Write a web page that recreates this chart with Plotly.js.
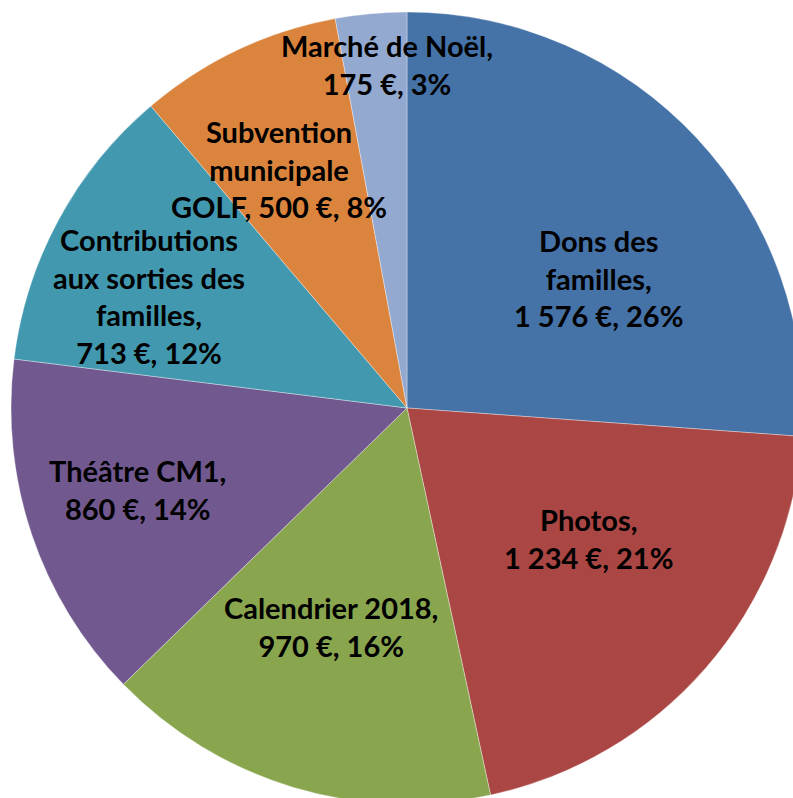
<!DOCTYPE html>
<html>
<head>
<meta charset="utf-8">
<script src="https://cdn.plot.ly/plotly-3.0.1.min.js"></script>
<style>
html, body { margin: 0; padding: 0; overflow: hidden; background: #ffffff; }
#chart { width: 820px; height: 820px; }
</style>
</head>
<body>
<div id="chart"></div>
<script>
// ---- data ----
const categories = ['Dons des familles', 'Photos', 'Calendrier 2018', 'Théâtre CM1',
  'Contributions aux sorties des familles', 'Subvention municipale GOLF', 'Marché de Noël'];
const labelLines = ['Dons des<br>familles,', 'Photos,', 'Calendrier 2018,', 'Théâtre CM1,',
  'Contributions<br>aux sorties des<br>familles,', 'Subvention<br>municipale<br>GOLF,', 'Marché de Noël,'];
const values = [1576, 1234, 970, 860, 713, 500, 175];
const colors = ['#4572A7', '#AA4643', '#89A54E', '#71588F', '#4198AF', '#DB843D', '#93A9CF'];

// ---- label placement style (fraction of radius, angle shift in degrees) ----
const labelDist = [0.583, 0.563, 0.585, 0.712, 0.710, 0.685, 0.870];
const labelShift = [8.8, -5.3, 2.3, 1.7, -4.9, -2.8, 1.9];
// labels with value on the same line as last text line
const inlineValue = [false, false, false, false, false, true, false];

const W = 820, H = 820;
const cx = 407, cy = 408, R = 396;

function fmt(v) {
  return String(v).replace(/\B(?=(\d{3})+(?!\d))/g, '\u00a0');
}

const total = values.reduce((a, b) => a + b, 0);

// percentages rounded so that they sum to 100 (largest remainder)
const raw = values.map(v => v / total * 100);
const pcts = raw.map(Math.floor);
let missing = 100 - pcts.reduce((a, b) => a + b, 0);
raw.map((r, i) => [r - Math.floor(r), i]).sort((a, b) => b[0] - a[0])
  .slice(0, missing).forEach(([, i]) => { pcts[i] += 1; });

let cum = 0;
const annotations = [];
values.forEach((v, i) => {
  const frac = v / total;
  const mid = (cum + frac / 2) * 360 + labelShift[i];
  cum += frac;
  const a = mid * Math.PI / 180;
  const px = cx + labelDist[i] * R * Math.sin(a);
  const py = cy - labelDist[i] * R * Math.cos(a);
  const valTxt = fmt(v) + ' €, ' + pcts[i] + '%';
  const text = inlineValue[i] ? labelLines[i] + ' ' + valTxt : labelLines[i] + '<br>' + valTxt;
  annotations.push({
    x: px / W, y: 1 - py / H, xref: 'paper', yref: 'paper',
    xanchor: 'center', yanchor: 'middle', showarrow: false,
    text: text, align: 'center',
    font: { family: 'Lato, sans-serif', size: 29, color: '#000000', weight: 'bold' }
  });
});

const trace = {
  type: 'pie',
  labels: categories,
  values: values,
  sort: false,
  direction: 'clockwise',
  rotation: 0,
  textinfo: 'none',
  hoverinfo: 'none',
  marker: { colors: colors, line: { color: 'rgba(255,255,255,0.35)', width: 1 } },
  domain: { x: [(cx - R) / W, (cx + R) / W], y: [(H - cy - R) / H, (H - cy + R) / H] },
  showlegend: false
};

const layout = {
  width: W, height: H,
  margin: { l: 0, r: 0, t: 0, b: 0, pad: 0 },
  paper_bgcolor: '#ffffff',
  showlegend: false,
  annotations: annotations
};

Plotly.newPlot('chart', [trace], layout, { staticPlot: true, displayModeBar: false });
</script>
</body>
</html>
